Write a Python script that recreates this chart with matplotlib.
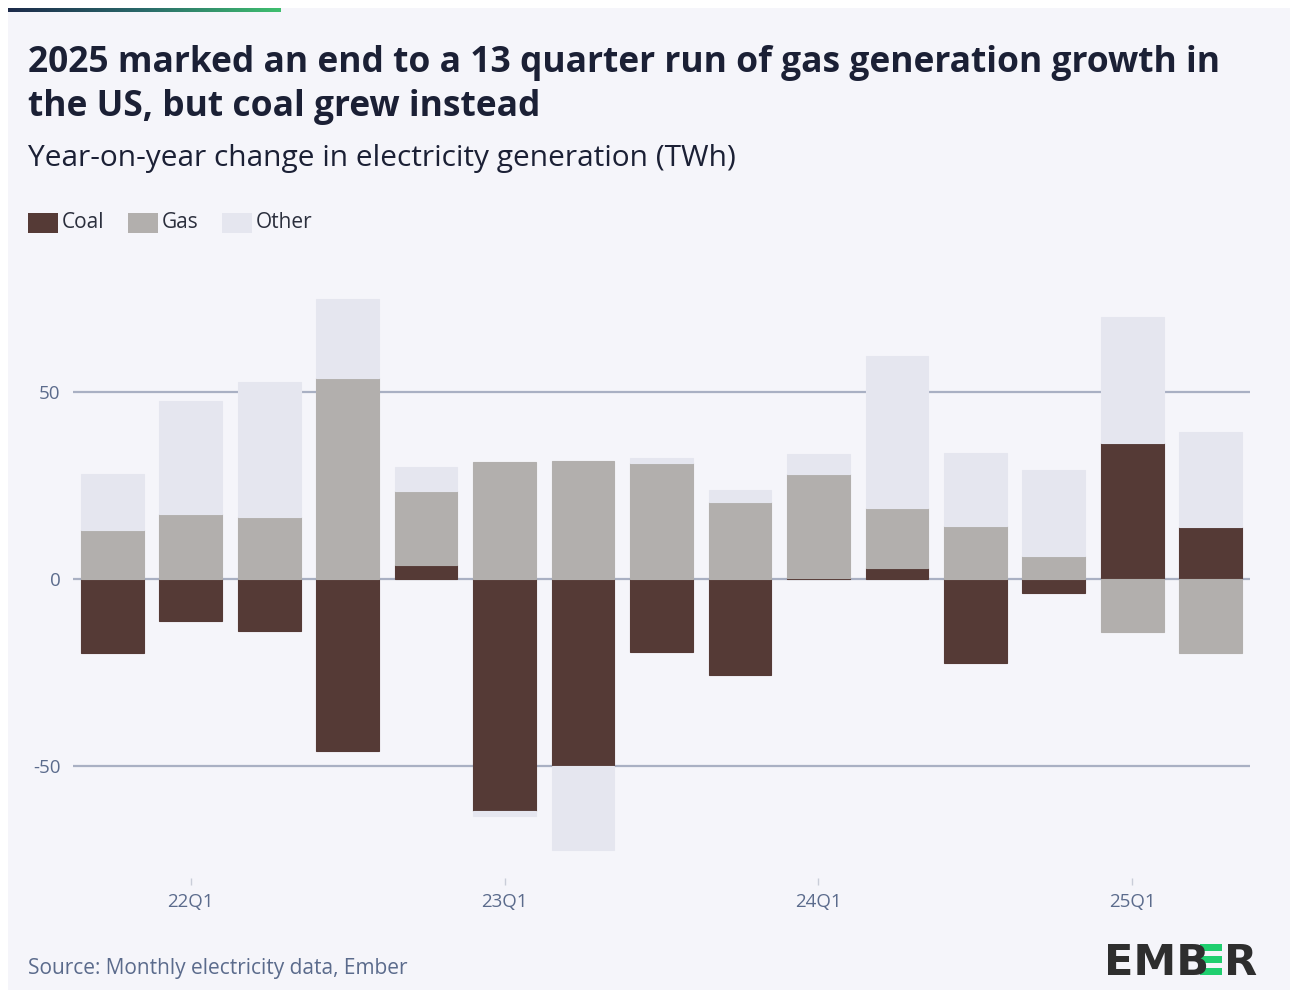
import matplotlib
matplotlib.use("Agg")
import matplotlib.pyplot as plt
from matplotlib.patches import Rectangle
from matplotlib.colors import LinearSegmentedColormap
import numpy as np

quarters = ["21Q4", "22Q1", "22Q2", "22Q3", "22Q4", "23Q1", "23Q2", "23Q3",
            "23Q4", "24Q1", "24Q2", "24Q3", "24Q4", "25Q1", "25Q2"]
coal = [-19.8, -11.2, -13.9, -46.0, 3.7, -62.0, -50.0, -19.5,
        -25.7, 0.3, 2.9, -22.5, -3.7, 36.4, 13.9]
gas = [13.1, 17.4, 16.6, 53.7, 19.8, 31.3, 31.6, 31.0,
       20.6, 27.8, 16.1, 14.2, 6.1, -14.2, -19.8]
other = [15.0, 30.2, 36.1, 21.1, 6.4, -1.3, -22.5, 1.3,
         3.2, 5.3, 40.6, 19.5, 23.0, 33.7, 25.4]
tick_labels = ["22Q1", "23Q1", "24Q1", "25Q1"]
yticks = [-50, 0, 50]

C_COAL = "#553a36"
C_GAS = "#b2afad"
C_OTHER = "#e5e6ef"
BG = "#f5f5fa"
TXT = "#1b2035"
AX_TXT = "#5b6b8c"
GRID = "#a9b0c3"

W, H = 1293, 993
fig = plt.figure(figsize=(W / 100, H / 100), dpi=100)
fig.patch.set_facecolor("white")

# card background
fig.add_artist(Rectangle((8 / W, 1 - 990 / H), (1290 - 8) / W, (990 - 8) / H,
                         transform=fig.transFigure, facecolor=BG, edgecolor="none", zorder=0))
# gradient accent line at top
grad = np.linspace(0, 1, 256).reshape(1, -1)
cm = LinearSegmentedColormap.from_list("g", ["#1c2a4a", "#2a6a6a", "#3fbf6f"])
gax = fig.add_axes([8 / W, 1 - 12 / H, (281 - 8) / W, 4 / H])
gax.imshow(grad, aspect="auto", cmap=cm)
gax.axis("off")

ax = fig.add_axes([73 / W, 0.1156, (1250 - 73) / W, 0.6102])
ax.set_facecolor(BG)

x = np.arange(len(quarters))
coal_a = np.array(coal)
gas_a = np.array(gas)
other_a = np.array(other)

pos_base = np.zeros(len(x))
neg_base = np.zeros(len(x))
for vals, col in [(coal_a, C_COAL), (gas_a, C_GAS), (other_a, C_OTHER)]:
    bottoms = np.where(vals >= 0, pos_base, neg_base)
    ax.bar(x, vals, bottom=bottoms, width=0.8, color=col, edgecolor=col,
           linewidth=0.8, zorder=3)
    pos_base = pos_base + np.where(vals >= 0, vals, 0)
    neg_base = neg_base + np.where(vals < 0, vals, 0)

ax.set_xlim(-0.5, len(quarters) - 0.5)
ax.set_ylim(-80, 82)
ax.set_yticks(yticks)
ax.set_yticklabels([str(v) if v >= 0 else "-" + str(-v) for v in yticks])
for v in yticks:
    ax.axhline(v, color=GRID, linewidth=1.6, zorder=2)

tick_pos = [quarters.index(q) for q in tick_labels]
ax.set_xticks(tick_pos)
ax.set_xticklabels(tick_labels)
ax.tick_params(axis="x", length=5, width=1, color="#c9cdd8",
               labelsize=13.5, pad=6)
ax.tick_params(axis="y", length=0, labelsize=13.5, pad=9)
for lab in ax.get_xticklabels() + ax.get_yticklabels():
    lab.set_color(AX_TXT)
    lab.set_family("Open Sans")
for s in ax.spines.values():
    s.set_visible(False)

# Titles
fig.text(28 / W, 1 - 72 / H, "2025 marked an end to a 13 quarter run of gas generation growth in",
         fontsize=25.5, fontweight="bold", color=TXT, family="Open Sans", va="baseline")
fig.text(28 / W, 1 - 116 / H, "the US, but coal grew instead",
         fontsize=25.5, fontweight="bold", color=TXT, family="Open Sans", va="baseline")
fig.text(28 / W, 1 - 166 / H, "Year-on-year change in electricity generation (TWh)",
         fontsize=21.5, color=TXT, family="Open Sans", va="baseline")

# Legend
leg_items = [("Coal", C_COAL, 28), ("Gas", C_GAS, 128), ("Other", C_OTHER, 222)]
for name, col, lx in leg_items:
    fig.add_artist(Rectangle((lx / W, 1 - 233 / H), 30 / W, 20 / H,
                             transform=fig.transFigure, facecolor=col, edgecolor="none"))
    fig.text((lx + 34) / W, 1 - 223 / H, name, fontsize=15, color="#2b2f3d",
             family="Open Sans", va="center")

# Source
fig.text(28 / W, 1 - 974 / H, "Source: Monthly electricity data, Ember",
         fontsize=15, color=AX_TXT, family="Open Sans", va="baseline")

# Logo
logo_y = 1 - 975 / H
fig.text(1104 / W, logo_y, "EMB", fontsize=31, fontweight="bold", color="#2e2e2e",
         family="DejaVu Sans", va="baseline")
for top in (944, 956, 968):
    fig.add_artist(Rectangle((1200 / W, 1 - (top + 6.5) / H), 22 / W, 6.5 / H,
                             transform=fig.transFigure, facecolor="#1fcf6f",
                             edgecolor="none"))
fig.text(1224 / W, logo_y, "R", fontsize=31, fontweight="bold", color="#2e2e2e",
         family="DejaVu Sans", va="baseline")

fig.savefig("out.png", dpi=100, facecolor="white")
